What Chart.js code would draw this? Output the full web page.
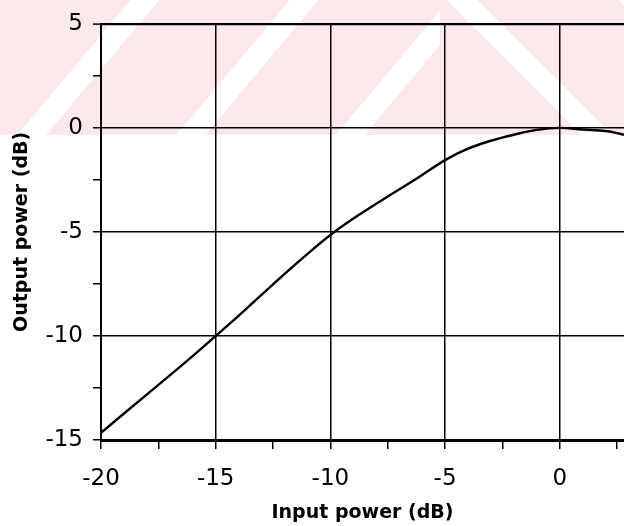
<!DOCTYPE html>
<html lang="en">
<head>
    <meta charset="UTF-8">
    <title>Output power vs input power</title>
    <script src="https://cdn.jsdelivr.net/npm/chart.js"></script>
    <style>
        body { margin: 0; background: #fff; }
        .fondo { position: relative; width: 624px; height: 526px; overflow: hidden; }
        /* marca de agua rosa de la pagina escaneada */
        .marca-izq, .marca-der { position: absolute; top: 0; height: 135px; }
        .marca-izq { left: 0; width: 440px;
            background: repeating-linear-gradient(130deg, #fde8ec 0 100px, #ffffff 100px 122px); }
        .marca-der { left: 440px; width: 184px;
            background: repeating-linear-gradient(45deg, #fde8ec 0 100px, #ffffff 100px 122px); }
        canvas { position: absolute; left: 0; top: 0; }
    </style>
    <script>
// Potencia de entrada (dB) y potencia de salida (dB)
const entrada = [-20, -18.75, -17.5, -16.25, -15, -13.75, -12.5, -11.25, -10, -8.75, -7.5, -6.25, -5, -4, -3, -2, -1, 0, 1, 2, 2.8];
const salida = [-14.65, -13.5, -12.35, -11.2, -10.0, -8.78, -7.52, -6.3, -5.15, -4.18, -3.3, -2.45, -1.55, -1.0, -0.62, -0.33, -0.1, 0, -0.08, -0.15, -0.33];

// etiquetas de los ejes
const ticksX = [-20, -15, -10, -5, 0];
const ticksY = [-15, -10, -5, 0, 5];

const fuenteTicks = { family: 'DejaVu Sans', size: 23 };
const fuenteTitulo = { family: 'DejaVu Sans', size: 19, weight: 'bold' };

function colorRejilla(ctx) {
    // solo las lineas mayores (cada 5 dB) cruzan el area
    return ctx.tick && ctx.tick.value % 5 === 0 ? '#000' : 'rgba(0,0,0,0)';
}

window.onload = function() {
    const ctx = document.getElementById('potenciaChart').getContext('2d');
    new Chart(ctx, {
        type: 'line',
        data: {
            datasets: [{
                data: entrada.map((x, i) => ({ x: x, y: salida[i] })),
                borderColor: '#000',
                borderWidth: 2.4,
                pointRadius: 0,
                tension: 0.4,
                fill: false
            }]
        },
        options: {
            responsive: false,
            animation: false,
            layout: { padding: { top: 23, right: 0, left: 0, bottom: 0 } },
            plugins: { legend: { display: false }, tooltip: { enabled: false } },
            scales: {
                x: {
                    type: 'linear',
                    min: -20,
                    max: 2.8,
                    afterFit: s => { s.height = 86; s.paddingRight = 0; },
                    ticks: {
                        stepSize: 2.5,
                        includeBounds: false,
                        autoSkip: false,
                        maxRotation: 0,
                        color: '#000',
                        font: fuenteTicks,
                        padding: 16,
                        callback: v => ticksX.includes(v) ? String(v) : ''
                    },
                    grid: { color: colorRejilla, lineWidth: 1.5, tickColor: '#000', tickLength: 9, tickWidth: 1.5 },
                    border: { color: '#000', width: 3 },
                    title: { display: true, text: 'Input power (dB)', color: '#000', font: fuenteTitulo, padding: { top: 0, bottom: 2 } }
                },
                y: {
                    min: -15,
                    max: 5,
                    afterFit: s => { s.width = 101; },
                    ticks: {
                        stepSize: 2.5,
                        autoSkip: false,
                        color: '#000',
                        font: fuenteTicks,
                        padding: 10,
                        callback: v => ticksY.includes(v) ? String(v) : ''
                    },
                    grid: {
                        color: colorRejilla,
                        lineWidth: ctx => ctx.tick && ctx.tick.value === 5 ? 2.2 : 1.5,
                        tickColor: '#000', tickLength: 8, tickWidth: 1.5
                    },
                    border: { color: '#000', width: 2 },
                    title: { display: true, text: 'Output power (dB)', color: '#000', font: fuenteTitulo, padding: { top: 11, bottom: 0 } }
                }
            }
        }
    });
};
    </script>
</head>
<body>
    <div class="fondo">
        <div class="marca-izq"></div>
        <div class="marca-der"></div>
        <canvas id="potenciaChart" width="624" height="526"></canvas>
    </div>
</body>
</html>
